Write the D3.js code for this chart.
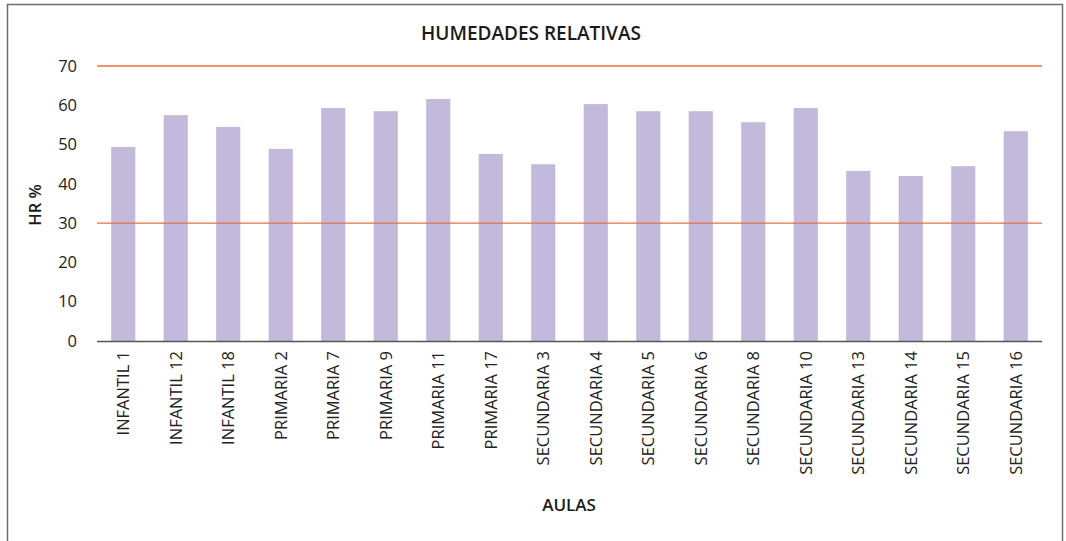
<!DOCTYPE html>
<html>
<head>
<meta charset="utf-8">
<script src="https://cdn.jsdelivr.net/npm/d3@7"></script>
<style>
  body { margin: 0; background: #fff; }
  svg { display: block; font-family: "Open Sans", "DejaVu Sans", sans-serif; }
</style>
</head>
<body>
<div id="graph"></div>
<script>
"use strict";
(function() {
    const aulas = ["INFANTIL 1", "INFANTIL 12", "INFANTIL 18", "PRIMARIA 2", "PRIMARIA 7",
        "PRIMARIA 9", "PRIMARIA 11", "PRIMARIA 17", "SECUNDARIA 3", "SECUNDARIA 4",
        "SECUNDARIA 5", "SECUNDARIA 6", "SECUNDARIA 8", "SECUNDARIA 10", "SECUNDARIA 13",
        "SECUNDARIA 14", "SECUNDARIA 15", "SECUNDARIA 16"];
    const humedad = [49.4, 57.5, 54.5, 48.9, 59.3, 58.5, 61.6, 47.6, 45.0, 60.3,
        58.5, 58.5, 55.7, 59.3, 43.3, 42.0, 44.5, 53.4];
    const yTicks = [0, 10, 20, 30, 40, 50, 60, 70];
    const limites = [70, 30];

    const svgSize = { width: 1066, height: 541 };
    const plot = { left: 97, right: 1042, top: 66, bottom: 341 };

    window.addEventListener("load", init);

    function init() {
        let svg = d3.select("#graph")
            .append("svg")
                .attr("width", svgSize.width)
                .attr("height", svgSize.height);

        // frame
        svg.append("rect")
            .attr("x", 7.5).attr("y", 4.5)
            .attr("width", 1055).attr("height", 560)
            .attr("fill", "none")
            .attr("stroke", "#6e6e6e")
            .attr("stroke-width", 1.5);

        let xScale = d3.scaleBand()
            .domain(aulas)
            .range([plot.left, plot.right])
            .paddingInner(0.54)
            .paddingOuter(0.27);
        let yScale = d3.scaleLinear()
            .domain([0, 70])
            .range([plot.bottom, plot.top]);

        svg.selectAll("rect.bar")
            .data(aulas)
            .enter()
            .append("rect")
                .attr("class", "bar")
                .attr("x", (d) => xScale(d))
                .attr("y", (d, i) => yScale(humedad[i]))
                .attr("width", xScale.bandwidth())
                .attr("height", (d, i) => yScale(0) - yScale(humedad[i]))
                .attr("fill", "#c3badb");

        // limit lines
        svg.selectAll("line.lim")
            .data(limites)
            .enter()
            .append("line")
                .attr("class", "lim")
                .attr("x1", plot.left).attr("x2", plot.right)
                .attr("y1", (d) => yScale(d)).attr("y2", (d) => yScale(d))
                .attr("stroke", (d) => d == 70 ? "#f4916b" : "#ee6a45")
                .attr("stroke-width", (d) => d == 70 ? 2 : 1.3);

        // y axis
        let yAxis = svg.append("g")
            .attr("transform", "translate(" + plot.left + ",0)")
            .call(d3.axisLeft(yScale).tickValues(yTicks).tickSize(0).tickPadding(20));
        yAxis.select(".domain").remove();
        yAxis.selectAll("text")
            .attr("font-size", "16.5px")
            .attr("fill", "#222")
            .attr("font-family", "Open Sans, sans-serif");

        // x axis
        let xAxis = svg.append("g")
            .attr("transform", "translate(0," + plot.bottom + ")")
            .call(d3.axisBottom(xScale).tickSize(0).tickPadding(0));
        xAxis.select(".domain")
            .attr("stroke", "#555")
            .attr("stroke-width", 1.5)
            .attr("d", "M" + plot.left + ",0.5H" + plot.right);
        xAxis.selectAll("text")
            .attr("font-size", "16.5px")
            .attr("fill", "#222")
            .attr("font-family", "Open Sans, sans-serif")
            .attr("text-anchor", "end")
            .attr("dy", "0.35em")
            .attr("transform", "translate(0,10) rotate(-90)")
            .attr("x", 0).attr("y", 0);

        svg.append("text")
            .attr("x", 531).attr("y", 40)
            .attr("text-anchor", "middle")
            .attr("font-size", "19px")
            .attr("font-weight", "600")
            .attr("fill", "#1a1a1a")
            .text("HUMEDADES RELATIVAS");

        svg.append("text")
            .attr("transform", "translate(41,205) rotate(-90)")
            .attr("text-anchor", "middle")
            .attr("font-size", "16.5px")
            .attr("font-weight", "600")
            .attr("fill", "#1a1a1a")
            .text("HR %");

        svg.append("text")
            .attr("x", 569).attr("y", 511)
            .attr("text-anchor", "middle")
            .attr("font-size", "17px")
            .attr("font-weight", "600")
            .attr("fill", "#1a1a1a")
            .text("AULAS");
    }
})();
</script>
</body>
</html>
